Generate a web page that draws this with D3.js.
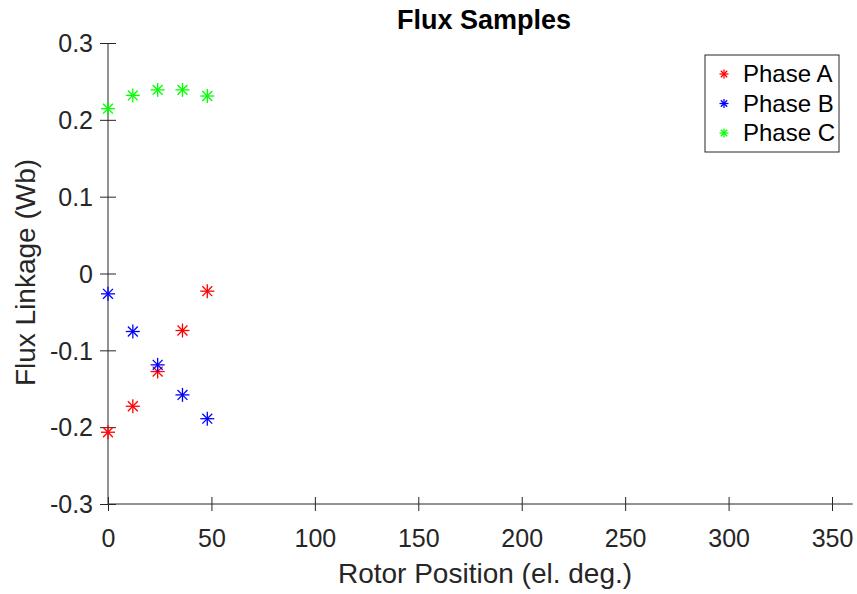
<!DOCTYPE html>
<html><head><meta charset="utf-8">
<script src="https://cdn.jsdelivr.net/npm/d3@7"></script>
<style>body{margin:0;background:#fff}svg{display:block;font-family:"Liberation Sans",Arial,sans-serif}</style>
</head><body><svg id="c" width="857" height="594"></svg>
<script>
const positions = [0, 12, 24, 36, 48];
const phaseA = [-0.2066, -0.1728, -0.1276, -0.0742, -0.023];
const phaseB = [-0.0265, -0.0755, -0.1189, -0.158, -0.189];
const phaseC = [0.2145, 0.2318, 0.239, 0.239, 0.231];
const seriesNames = ["Phase A", "Phase B", "Phase C"];
const seriesColors = ["#ff0000", "#0000ff", "#00ff00"];
const xTicks = [0, 50, 100, 150, 200, 250, 300, 350];
const yTicks = [-0.3, -0.2, -0.1, 0, 0.1, 0.2, 0.3];

const svg = d3.select("#c");
const x = d3.scaleLinear().domain([0, 360]).range([108, 852.7]);
const y = d3.scaleLinear().domain([-0.3, 0.3]).range([504, 43]);
const axisColor = "#262626";

const gx = svg.append("g").attr("transform", `translate(0,${y(-0.3)})`)
  .call(d3.axisBottom(x).tickValues(xTicks).tickSize(0).tickFormat(d3.format("d")));
gx.selectAll(".tick line").remove();
gx.selectAll(".tick").append("line").attr("y1", -7).attr("y2", 7).attr("stroke", axisColor);
gx.selectAll(".tick text").attr("font-size", 25).attr("font-family", "Liberation Sans, Arial, sans-serif")
  .attr("fill", "#262626").attr("dy", null).attr("y", 43);

const fmtY = d => d === 0 ? "0" : d3.format(".1f")(d).replace("\u2212", "-");
const gy = svg.append("g").attr("transform", `translate(${x(0)},0)`)
  .call(d3.axisLeft(y).tickValues(yTicks).tickSize(0).tickFormat(fmtY));
gy.selectAll(".tick line").remove();
gy.selectAll(".tick").append("line").attr("x1", -8).attr("x2", 8).attr("stroke", axisColor);
gy.selectAll(".tick text").attr("font-size", 25).attr("font-family", "Liberation Sans, Arial, sans-serif")
  .attr("fill", "#262626").attr("x", -15).attr("dy", "0.35em");
svg.selectAll(".domain").remove();
svg.append("line").attr("x1", x(0)).attr("x2", x(360)).attr("y1", y(-0.3)).attr("y2", y(-0.3)).attr("stroke", axisColor);
svg.append("line").attr("x1", x(0)).attr("x2", x(0)).attr("y1", y(-0.3)).attr("y2", y(0.3)).attr("stroke", axisColor);

svg.append("text").attr("x", 484).attr("y", 29).attr("text-anchor", "middle")
  .attr("font-size", 27).attr("font-weight", "bold").attr("fill", "#000").text("Flux Samples");
svg.append("text").attr("x", 485).attr("y", 583).attr("text-anchor", "middle")
  .attr("font-size", 28).attr("fill", "#262626").text("Rotor Position (el. deg.)");
svg.append("text").attr("transform", `translate(35,272.5) rotate(-90)`).attr("text-anchor", "middle")
  .attr("font-size", 28).attr("fill", "#262626").text("Flux Linkage (Wb)");

function star(g, cx, cy, r, color) {
  for (let a = 0; a < 4; a++) {
    const ang = a * Math.PI / 4;
    g.append("line")
      .attr("x1", cx - r * Math.cos(ang)).attr("y1", cy - r * Math.sin(ang))
      .attr("x2", cx + r * Math.cos(ang)).attr("y2", cy + r * Math.sin(ang))
      .attr("stroke", color).attr("stroke-width", 1.3);
  }
}

[phaseA, phaseB, phaseC].forEach((vals, i) => {
  const g = svg.append("g");
  vals.forEach((v, j) => star(g, x(positions[j]), y(v), 7, seriesColors[i]));
});

const lg = svg.append("g");
lg.append("rect").attr("x", 705).attr("y", 55).attr("width", 134).attr("height", 97)
  .attr("fill", "#fff").attr("stroke", "#262626").attr("stroke-width", 1);
seriesNames.forEach((n, i) => {
  const cy = 74 + i * 29.5;
  star(lg, 724, cy, 4.5, seriesColors[i]);
  lg.append("text").attr("x", 743).attr("y", cy).attr("dy", "0.35em")
    .attr("font-size", 24).attr("fill", "#000").text(n);
});
</script></body></html>
